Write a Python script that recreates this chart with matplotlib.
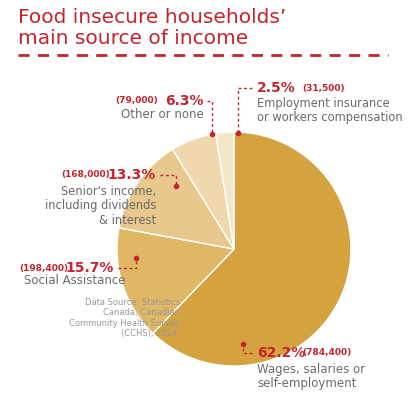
import matplotlib.pyplot as plt

labels = ['Wages, salaries or\nself-employment', 'Social Assistance',
          "Senior's income,\nincluding dividends\n& interest", 'Other or none',
          'Employment insurance\nor workers compensation']
shares = [62.2, 15.7, 13.3, 6.3, 2.5]
counts = ['(784,400)', '(198,400)', '(168,000)', '(79,000)', '(31,500)']
colors = ['#D4A23F', '#E0B865', '#E8C88C', '#EFD8AE', '#F4E6C8']

RED = '#C4242E'
GRAY = '#6b6b6b'
W, H = 416, 408

fig = plt.figure(figsize=(W / 100, H / 100), dpi=100)
fig.patch.set_facecolor('white')

# pie in pixel box
cx, cy, r = 234, 249, 117
ax = fig.add_axes([(cx - r) / W, 1 - (cy + r) / H, 2 * r / W, 2 * r / H])
ax.pie(shares, colors=colors, startangle=90, counterclock=False,
       wedgeprops=dict(edgecolor='white', linewidth=1))
ax.set_xlim(-1, 1)
ax.set_ylim(-1, 1)
ax.set_aspect('equal')

def px(x, y):
    return x / W, 1 - y / H

fig.text(*px(18, 8), 'Food insecure households\u2019\nmain source of income',
         color=RED, fontsize=14.5, va='top', ha='left', linespacing=1.15)
over = fig.add_axes([0, 0, 1, 1], facecolor='none')
over.set_xlim(0, W)
over.set_ylim(H, 0)
over.axis('off')
over.plot([18, 388], [55, 55], color=RED, lw=2, ls=(0, (4, 3)))

def line(xs, ys):
    over.plot(xs, ys, color=RED, lw=1, ls=(0, (2, 2)))
    over.plot(xs[-1], ys[-1], 'o', color=RED, ms=3)

def label(x, y, i, pct_first=False):
    if pct_first:
        fig.text(*px(x, y), f'{shares[i]}%', color=RED, fontsize=10,
                 fontweight='bold', ha='left', va='center')
        fig.text(*px(x + 45, y), counts[i], color=RED, fontsize=6.5,
                 fontweight='bold', ha='left', va='center')
    else:
        fig.text(*px(x, y), f'{shares[i]}%', color=RED, fontsize=10,
                 fontweight='bold', ha='right', va='center')
        fig.text(*px(x - 46, y), counts[i], color=RED, fontsize=6.5,
                 fontweight='bold', ha='right', va='center')

# Other or none
label(204, 101, 3)
fig.text(*px(204, 115), labels[3], color=GRAY, fontsize=8.5, ha='right', va='center')
line([207, 212, 212], [101, 101, 134])

# Employment insurance
label(257, 88, 4, pct_first=True)
fig.text(*px(257, 110), labels[4], color=GRAY, fontsize=8.3, ha='left',
         va='center', linespacing=1.1)
line([252, 238, 238], [88, 88, 133])

# Senior's income
label(156, 175, 2)
fig.text(*px(156, 206), labels[2], color=GRAY, fontsize=8.3, ha='right',
         va='center', linespacing=1.1)
line([160, 176, 176], [175, 175, 186])

# Social assistance
label(114, 268, 1)
fig.text(*px(24, 281), labels[1], color=GRAY, fontsize=8.5, ha='left', va='center')
line([118, 136, 136], [268, 268, 258])

# Wages
label(257, 353, 0, pct_first=True)
fig.text(*px(257, 376), labels[0], color=GRAY, fontsize=8.5, ha='left',
         va='center', linespacing=1.1)
line([252, 243, 243], [353, 353, 344])

fig.text(*px(180, 318), 'Data Source: Statistics\nCanada, Canadian\nCommunity Health Survey\n(CCHS), 2014.',
         color='#999999', fontsize=6, ha='right', va='center', linespacing=1.2)

fig.savefig('out.png', dpi=100, facecolor='white')
